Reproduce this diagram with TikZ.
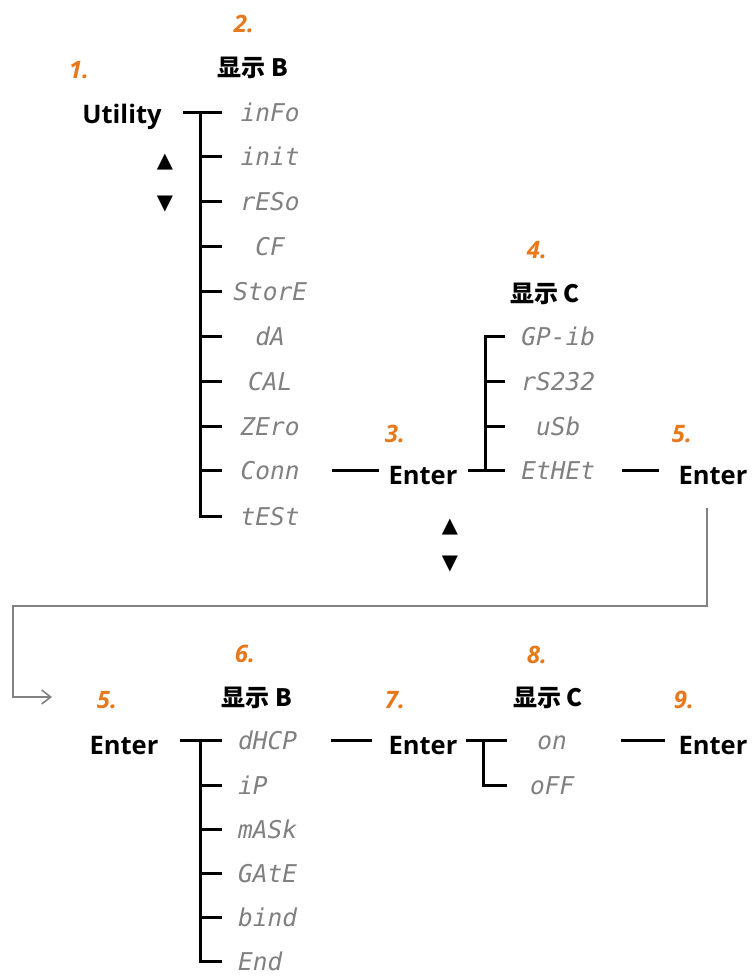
\documentclass[tikz,border=0pt]{standalone}
\usepackage{fontspec}
\setmainfont{Open Sans}
\newfontfamily\cjkfont{Noto Sans CJK SC}
\newfontfamily\segfont{DejaVu Sans Mono}
\newfontfamily\symfont{DejaVu Sans}
\usetikzlibrary{arrows.meta}
\definecolor{numorange}{RGB}{232,120,28}
\definecolor{segcol}{RGB}{128,128,128}
\definecolor{flowgray}{RGB}{130,130,130}
\begin{document}
\begin{tikzpicture}[x=1pt,y=-1pt,
  num/.style={font=\fontsize{24}{24}\selectfont\bfseries\itshape, text=numorange, anchor=base, inner sep=0pt},
  head/.style={font=\cjkfont\bfseries\fontsize{24}{24}\selectfont, anchor=base, inner sep=0pt},
  key/.style={font=\fontsize{25.5}{25.5}\selectfont\bfseries, anchor=base, inner sep=0pt},
  seg/.style={font=\segfont\itshape\fontsize{24.5}{24.5}\selectfont, text=segcol, inner xsep=0pt, inner ysep=0pt,
              text height=18pt, text depth=0pt, anchor=west, align=center},
  segl/.style={seg, align=left},
  tri/.style={font=\symfont\fontsize{21}{21}\selectfont, inner sep=0pt},
  tree/.style={line width=3pt, line cap=rect, line join=miter},
  flow/.style={draw=flowgray, line width=2pt, -{Straight Barb[length=9pt,width=14pt,line width=1.6pt]}}
]
\useasboundingbox (0,0) rectangle (752,977);

% ---------- top part ----------
\node[num] (n1) at (79,78) {1.};
\node[num] (n2) at (244,32) {2.};
\node[head] (hB1) at (253,76) {显示 B};
\node[key] (util) at (122,123) {Utility};
\node[tri] (up1) at (165,162) {▲};
\node[tri] (dn1) at (165,204) {▼};

\coordinate (s1) at (200,0);
\node[seg, text width=100pt] (info)  at (220,112.0) {inFo};
\node[seg, text width=100pt] (init)  at (220,156.9) {init};
\node[seg, text width=100pt] (reso)  at (220,201.8) {rESo};
\node[seg, text width=100pt] (cf)    at (220,246.7) {CF};
\node[seg, text width=100pt] (store) at (220,291.6) {StorE};
\node[seg, text width=100pt] (da)    at (220,336.5) {dA};
\node[seg, text width=100pt] (cal)   at (220,381.4) {CAL};
\node[seg, text width=100pt] (zero)  at (220,426.3) {ZEro};
\node[seg, text width=100pt] (conn)  at (220,470.0) {Conn};
\node[seg, text width=100pt] (test)  at (220,516.1) {tESt};

\draw[tree, shorten <=23pt] (util.east |- info.west) -- (info.west);
\draw[tree] (s1 |- info.west) -- (s1 |- test.west) -- (test.west);
\foreach \n in {init,reso,cf,store,da,cal,zero,conn}
  \draw[tree] (s1 |- \n.west) -- (\n.west);

\node[num] (n3) at (395,442) {3.};
\node[key] (ent1) at (423,484) {Enter};
\draw[tree, shorten <=13pt, shorten >=11pt] (conn.east) -- (conn.east -| ent1.west);

\node[tri] (up2) at (450,527) {▲};
\node[tri] (dn2) at (450,564) {▼};

\node[num] (n4) at (537,258) {4.};
\node[head] (hC1) at (545,302) {显示 C};
\coordinate (s2) at (485,0);
\node[seg, text width=110pt] (gpib)  at (503,336) {GP-ib};
\node[seg, text width=110pt] (rs)    at (503,381) {rS232};
\node[seg, text width=110pt] (usb)   at (503,426) {uSb};
\node[seg, text width=110pt] (ethet) at (503,470) {EtHEt};
\draw[tree, shorten <=12pt] (ent1.east |- ethet.west) -- (ethet.west);
\draw[tree] (s2 |- gpib.west) -- (s2 |- ethet.west);
\foreach \n in {gpib,rs,usb}
  \draw[tree] (s2 |- \n.west) -- (\n.west);

\node[num] (n5a) at (682,442) {5.};
\node[key] (ent2) at (713,484) {Enter};
\draw[tree, shorten <=10pt, shorten >=21pt] (ethet.east) -- (ethet.east -| ent2.west);

% ---------- grey return connector ----------
\coordinate (g0) at (707,508);
\coordinate (gL) at (13,606);
\coordinate (g1) at (52,697);
\draw[flow] (g0) |- (gL) |- (g1);

% ---------- bottom part ----------
\node[num] (n5b) at (107,708) {5.};
\node[key] (ent3) at (124,754) {Enter};

\node[num] (n6) at (245,662) {6.};
\node[head] (hB2) at (257,706) {显示 B};
\coordinate (s3) at (200,0);
\node[segl, text width=100pt] (dhcp) at (238,740) {dHCP};
\node[segl, text width=100pt] (ip)   at (238,785) {iP};
\node[segl, text width=100pt] (mask) at (238,829) {mASk};
\node[segl, text width=100pt] (gate) at (238,873) {GAtE};
\node[segl, text width=100pt] (bind) at (238,917) {bind};
\node[segl, text width=100pt] (endd) at (238,961) {End};
\draw[tree, shorten <=23pt] (ent3.east |- dhcp.west) -- ([xshift=-18pt]dhcp.west);
\draw[tree] (s3 |- dhcp.west) -- (s3 |- endd.west) -- ([xshift=-18pt]endd.west);
\foreach \n in {ip,mask,gate,bind}
  \draw[tree] (s3 |- \n.west) -- ([xshift=-18pt]\n.west);

\node[num] (n7) at (395,708) {7.};
\node[key] (ent4) at (423,754) {Enter};
\draw[tree, shorten <=94pt, shorten >=18pt] (dhcp.west) -- (dhcp.west -| ent4.west);

\node[num] (n8) at (537,663) {8.};
\node[head] (hC2) at (548,706) {显示 C};
\coordinate (s4) at (483,0);
\node[seg, text width=94pt] (on)  at (505,740) {on};
\node[seg, text width=94pt] (off) at (505,785) {oFF};
\draw[tree, shorten <=10pt] (ent4.east |- on.west) -- (on.west);
\draw[tree] (s4 |- on.west) -- (s4 |- off.west) -- (off.west);

\node[num] (n9) at (684,708) {9.};
\node[key] (ent5) at (713,754) {Enter};
\draw[tree, shorten <=23pt, shorten >=15pt] (on.east) -- (on.east -| ent5.west);
\end{tikzpicture}
\end{document}
